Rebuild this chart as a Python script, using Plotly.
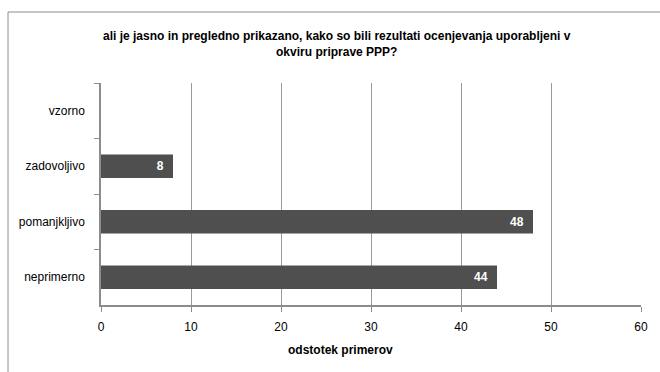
import plotly.graph_objects as go

# Ratings, listed top to bottom as they appear on the axis
categories = ["vzorno", "zadovoljivo", "pomanjkljivo", "neprimerno"]
values = [0, 8, 48, 44]
x_ticks = [0, 10, 20, 30, 40, 50, 60]

title_text = ("ali je jasno in pregledno prikazano, kako so bili rezultati ocenjevanja uporabljeni v"
              "<br>okviru priprave PPP?")
x_title = "odstotek primerov"

# value labels, padded away from the bar end; empty for zero
labels = [(str(v) + "\u00a0\u00a0") if v else "" for v in values]

fig = go.Figure(
    go.Bar(
        x=values,
        y=categories,
        orientation="h",
        width=0.42,
        marker=dict(color="#4f4f4f", line=dict(width=0)),
        text=labels,
        textposition="inside",
        insidetextanchor="end",
        textfont=dict(family="Liberation Sans", size=12, color="white", weight="bold"),
        cliponaxis=False,
    )
)

L, R, T, B = 101, 19, 83, 67
W, H = 660, 372
pw, ph = W - L - R, H - T - B

# outer chart frame (left and top edges visible)
fx = (8 - L) / pw
fy = 1 + (T - 12) / ph
fig.add_shape(type="line", xref="paper", yref="paper", x0=fx, x1=fx, y0=fy, y1=-0.5,
              line=dict(color="#8c8c8c", width=1))
fig.add_shape(type="line", xref="paper", yref="paper", x0=fx, x1=1.2, y0=fy, y1=fy,
              line=dict(color="#8c8c8c", width=1))

fig.add_annotation(text="<b>" + title_text.replace("<br>", "</b><br><b>") + "</b>",
                   xref="paper", yref="paper", x=(337 - L) / pw, y=1 + (T - 44) / ph,
                   xanchor="center", yanchor="middle", showarrow=False,
                   font=dict(family="Liberation Sans", size=12, color="black"))
fig.add_annotation(text="<b>" + x_title + "</b>", xref="paper", yref="paper",
                   x=(340 - L) / pw, y=-(350 - (H - B)) / ph,
                   xanchor="center", yanchor="middle", showarrow=False,
                   font=dict(family="Liberation Sans", size=12, color="black"))

fig.update_layout(
    width=W, height=H,
    margin=dict(l=L, r=R, t=T, b=B),
    paper_bgcolor="white", plot_bgcolor="white",
    showlegend=False,
    font=dict(family="Liberation Sans", size=12, color="black"),
)
fig.update_xaxes(
    range=[0, 60], tickvals=x_ticks, showgrid=True, gridcolor="#9a9a9a", gridwidth=1,
    showline=True, linecolor="#8c8c8c", linewidth=1.5, ticks="outside", ticklen=5,
    tickcolor="#8c8c8c", zeroline=False, tickfont=dict(size=12), ticklabelstandoff=5,
)
fig.update_yaxes(
    autorange="reversed", showline=True, linecolor="#8c8c8c", linewidth=1.5,
    ticks="outside", tickson="boundaries", ticklen=5, tickcolor="#8c8c8c",
    showgrid=False, ticklabelstandoff=12, tickfont=dict(size=12),
)

fig.write_html("out.html")
